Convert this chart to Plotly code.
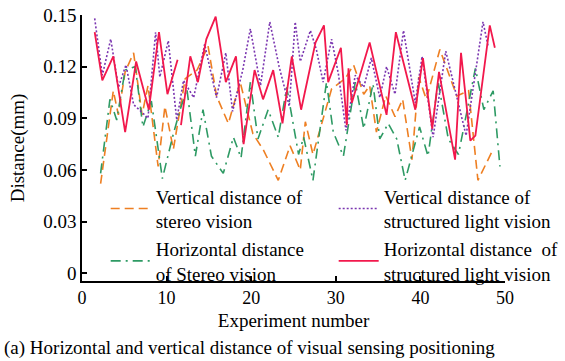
import plotly.graph_objects as go

# Vertical distance of stereo vision (orange dashed)
x_vs = [2.2, 3.7, 4.3, 5.1, 6.1, 7.1, 7.8, 9.0, 9.8, 10.8, 12.2, 13.6, 14.9, 15.9, 17.3, 18.7, 20.2, 21.4, 23.2, 24.6,
        25.8, 26.4, 27.3, 29.5, 31.1, 32.1, 33.3, 34.0, 34.8, 35.9, 37.0, 37.9, 39.0, 39.8, 40.7, 42.3, 44.3, 45.7, 46.8, 48.4]
y_vs = [0.052, 0.106, 0.092, 0.117, 0.128, 0.092, 0.109, 0.062, 0.097, 0.072, 0.113, 0.118, 0.132, 0.103, 0.087, 0.111,
        0.081, 0.072, 0.054, 0.074, 0.060, 0.088, 0.069, 0.107, 0.113, 0.121, 0.104, 0.109, 0.082, 0.103, 0.091, 0.101,
        0.066, 0.114, 0.101, 0.130, 0.103, 0.106, 0.054, 0.070]

# Horizontal distance of stereo vision (green dash-dot)
x_hs = [2.2, 3.3, 4.1, 5.1, 6.3, 7.2, 8.2, 9.5, 10.8, 11.6, 12.4, 13.4, 14.3, 15.3, 16.7, 17.9, 18.8, 19.9, 20.8, 22.0,
        23.2, 24.2, 25.6, 26.2, 27.3, 28.9, 29.7, 30.9, 32.3, 33.3, 34.4, 35.2, 36.2, 37.2, 38.2, 39.9, 40.9, 42.1, 43.3,
        44.5, 46.5, 47.5, 48.6, 49.4]
y_hs = [0.058, 0.101, 0.089, 0.118, 0.120, 0.085, 0.100, 0.055, 0.081, 0.095, 0.107, 0.068, 0.095, 0.068, 0.058, 0.079,
        0.067, 0.111, 0.078, 0.095, 0.079, 0.108, 0.069, 0.079, 0.054, 0.111, 0.082, 0.068, 0.111, 0.084, 0.110, 0.078,
        0.087, 0.078, 0.054, 0.085, 0.068, 0.111, 0.078, 0.069, 0.119, 0.095, 0.106, 0.062]

# Vertical distance of structured light vision (purple dotted)
x_vl = [1.5, 2.4, 3.4, 4.3, 5.2, 6.1, 7.4, 7.8, 8.7, 9.2, 10.2, 11.2, 12.0, 13.2, 14.5, 15.9, 17.0, 17.8, 19.0, 19.9,
        21.1, 22.2, 23.3, 24.5, 25.2, 25.8, 27.0, 27.7, 28.5, 29.5, 30.3, 31.2, 32.3, 33.3, 34.2, 35.2, 36.0, 37.0, 38.0,
        39.4, 40.2, 41.5, 43.0, 44.3, 45.4, 47.4, 48.0]
y_vl = [0.148, 0.115, 0.136, 0.108, 0.121, 0.098, 0.092, 0.090, 0.140, 0.114, 0.135, 0.089, 0.112, 0.102, 0.133, 0.102,
        0.128, 0.094, 0.118, 0.142, 0.109, 0.146, 0.120, 0.097, 0.146, 0.123, 0.141, 0.130, 0.111, 0.136, 0.116, 0.083,
        0.115, 0.108, 0.125, 0.102, 0.120, 0.104, 0.141, 0.099, 0.126, 0.079, 0.129, 0.102, 0.080, 0.146, 0.132]

# Horizontal distance of structured light vision (red solid)
x_hl = [1.5, 2.4, 3.7, 5.1, 6.4, 7.9, 9.1, 10.1, 11.3, 11.5, 11.7, 12.8, 13.7, 14.7, 15.8, 17.0, 18.2, 19.1, 20.4, 21.4,
        22.6, 23.7, 24.8, 25.9, 27.6, 28.6, 29.1, 30.6, 31.3, 31.5, 31.9, 34.0, 36.0, 37.1, 39.4, 40.3, 41.4, 42.2, 44.1,
        44.8, 45.9, 46.5, 48.2, 48.8]
y_hl = [0.140, 0.112, 0.126, 0.082, 0.123, 0.095, 0.140, 0.104, 0.124, None, 0.086, 0.126, 0.111, 0.136, 0.149, 0.111,
        0.126, 0.075, 0.118, 0.101, 0.118, 0.087, 0.126, 0.095, 0.134, 0.144, 0.111, 0.131, 0.086, 0.119, 0.099, 0.134,
        0.092, 0.140, 0.095, 0.125, 0.084, 0.117, 0.066, 0.128, 0.077, 0.080, 0.144, 0.131]

x_ticks = [0, 10, 20, 30, 40, 50]
y_ticks = [0, 0.03, 0.06, 0.09, 0.12, 0.15]
y_tick_text = ["0", "0.03", "0.06", "0.09", "0.12", "0.15"]

FONT = "Liberation Serif, Times New Roman, serif"

fig = go.Figure()
fig.add_trace(go.Scatter(x=x_vs, y=y_vs, mode="lines", name="Vertical distance of<br>stereo vision",
                         line=dict(color="#EE7F22", width=1.6, dash="9px,5px"), legend="legend"))
fig.add_trace(go.Scatter(x=x_hs, y=y_hs, mode="lines", name="Horizontal distance<br>of Stereo vision",
                         line=dict(color="#2E9A64", width=1.6, dash="10px,5px,2px,5px"), legend="legend"))
fig.add_trace(go.Scatter(x=x_vl, y=y_vl, mode="lines", name="Vertical distance of<br>structured light vision",
                         line=dict(color="#7A35B0", width=1.6, dash="2px,2px"), legend="legend2"))
fig.add_trace(go.Scatter(x=x_hl, y=y_hl, mode="lines", name="Horizontal distance  of<br>structured light vision",
                         line=dict(color="#F2184C", width=1.8), connectgaps=False, legend="legend2"))

axis_common = dict(showline=True, linecolor="black", linewidth=1.5, ticks="inside", ticklen=5,
                   tickwidth=1.5, tickcolor="black", showgrid=False, zeroline=False)

fig.update_layout(
    width=565, height=361,
    margin=dict(l=82, r=60, t=15, b=80, autoexpand=False),
    plot_bgcolor="white", paper_bgcolor="white",
    font=dict(family=FONT, size=18, color="black"),
    xaxis=dict(range=[0, 50], tickvals=x_ticks, tickfont=dict(family=FONT, size=18, color="black"),
               title=dict(text="Experiment number", standoff=6, font=dict(family=FONT, size=19)), **axis_common),
    yaxis=dict(range=[-0.0045, 0.15], tickvals=y_ticks, ticktext=y_tick_text,
               tickfont=dict(family=FONT, size=19, color="black"),
               title=dict(text="Distance(mm)", standoff=14, font=dict(family=FONT, size=19)), **axis_common),
    legend=dict(x=0.056, y=0.39, xanchor="left", yanchor="top", bgcolor="rgba(0,0,0,0)",
                font=dict(family=FONT, size=19), itemwidth=40, tracegroupgap=0),
    legend2=dict(x=0.595, y=0.39, xanchor="left", yanchor="top", bgcolor="rgba(0,0,0,0)",
                 font=dict(family=FONT, size=19), itemwidth=40, tracegroupgap=0),
    annotations=[dict(text="(a) Horizontal and vertical distance of visual sensing positioning",
                      xref="paper", yref="paper", x=0.395, y=-0.252, xanchor="center", yanchor="middle",
                      showarrow=False, font=dict(family=FONT, size=19, color="black"))],
)

fig.write_html("out.html")
